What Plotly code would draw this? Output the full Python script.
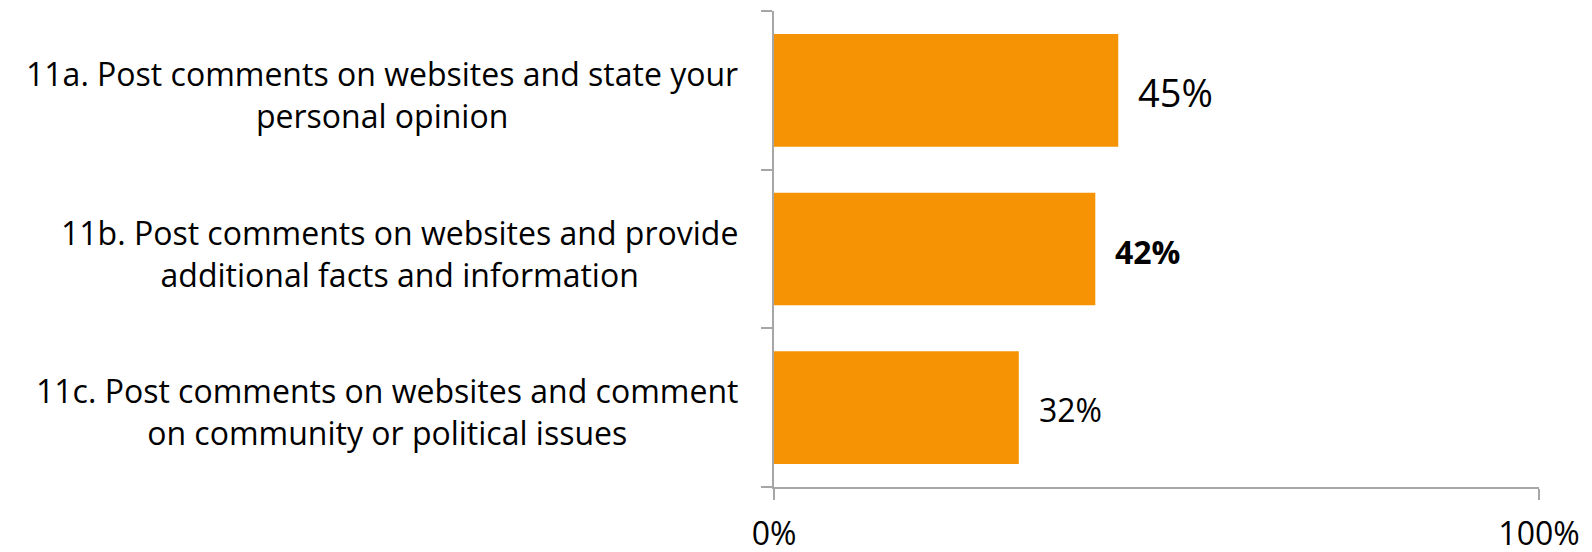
import plotly.graph_objects as go

# Survey items and share of respondents
categories = [
    "11a. Post comments on websites and state your<br>personal opinion",
    "11b. Post comments on websites and provide<br>additional facts and information",
    "11c. Post comments on websites and comment<br>on community or political issues",
]
values = [45, 42, 32]
value_labels = ["45%", "42%", "32%"]
label_sizes = [38, 32, 32]
label_weights = ["normal", "bold", "normal"]
x_tickvals = [0, 100]
x_ticktext = ["0%", "100%"]

FONT = "'Open Sans', sans-serif"
BAR = "#F59305"
AXIS = "#A6A6A6"

positions = list(range(len(categories)))

fig = go.Figure(
    go.Bar(
        x=values,
        y=positions,
        orientation="h",
        marker=dict(color=BAR, line=dict(width=0)),
        width=0.71,
        hoverinfo="skip",
    )
)

annotations = []
# category labels, centred lines, right edge near the axis
for pos, text in zip(positions, categories):
    annotations.append(
        dict(
            x=0, xref="paper", y=pos, yref="y",
            text=text, showarrow=False,
            xanchor="right", yanchor="middle", align="center",
            xshift=-34, yshift=-4,
            font=dict(family=FONT, size=32, color="#000000"),
        )
    )
# value labels just past each bar
for pos, v, t, s, w in zip(positions, values, value_labels, label_sizes, label_weights):
    annotations.append(
        dict(
            x=v, xref="x", y=pos, yref="y",
            text=t, showarrow=False,
            xanchor="left", yanchor="middle",
            xshift=18, yshift=-2,
            font=dict(family=FONT, size=s, color="#000000", weight=w),
        )
    )

fig.update_layout(
    width=1592,
    height=552,
    margin=dict(l=774, r=53, t=11, b=65),
    paper_bgcolor="white",
    plot_bgcolor="white",
    showlegend=False,
    annotations=annotations,
    xaxis=dict(
        range=[0, 100],
        tickvals=x_tickvals,
        ticktext=x_ticktext,
        ticks="outside",
        ticklen=11,
        tickwidth=2,
        tickcolor=AXIS,
        showline=True,
        linecolor=AXIS,
        linewidth=2,
        showgrid=True,
        gridcolor=AXIS,
        gridwidth=2,
        zeroline=False,
        ticklabelstandoff=7,
        tickfont=dict(family=FONT, size=32, color="#000000"),
        automargin=False,
        fixedrange=True,
    ),
    yaxis=dict(
        range=[2.5, -0.5],
        tickvals=positions,
        showticklabels=False,
        ticks="",
        showline=True,
        linecolor=AXIS,
        linewidth=2,
        showgrid=False,
        zeroline=False,
        automargin=False,
        minor=dict(
            tickvals=[-0.5, 0.5, 1.5, 2.5],
            ticks="outside",
            ticklen=11,
            tickwidth=2,
            tickcolor=AXIS,
            showgrid=False,
        ),
        fixedrange=True,
    ),
)

fig.write_html("out.html")
